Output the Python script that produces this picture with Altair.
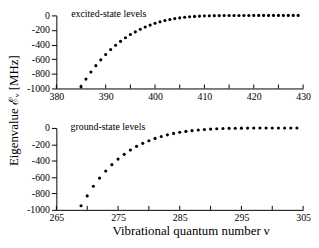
import altair as alt
import pandas as pd

FONT = "Liberation Serif, Times New Roman, serif"

# excited-state levels
exc_v = list(range(385, 430))
exc_e = [-975, -872, -775, -688, -608, -535, -468, -408, -355, -305,
         -262, -225, -190, -158, -132, -108, -88, -70, -55, -43,
         -33, -25, -18, -13, -9, -6, -4, -3, -2, -1.5,
         -1, -0.7, -0.5, -0.3, -0.2, -0.1, -0.05, -0.05, -0.05, -0.05,
         -0.05, -0.05, -0.05, -0.05, -0.05]
exc_ticks = list(range(380, 431, 5))
exc_labels = [380, 390, 400, 410, 420, 430]

# ground-state levels
gnd_v = list(range(269, 305))
gnd_e = [-950, -830, -712, -612, -525, -448, -380, -322, -270, -225,
         -188, -156, -128, -104, -84, -67, -53, -42, -33, -25,
         -19, -14, -10, -7, -5, -3.5, -2.5, -1.7, -1.1, -0.7,
         -0.4, -0.25, -0.15, -0.1, -0.05, -0.02]
gnd_ticks = list(range(265, 306, 5))
gnd_labels = [265, 275, 285, 295, 305]

y_ticks = [-1000, -800, -600, -400, -200, 0]

W = 250


def panel(v, e, xdom, labels, ticks, txt, txt_x, H, ytitle, xtitle, dy):
    df = pd.DataFrame({"v": v, "e": e})
    xs = alt.Scale(domain=xdom, nice=False, zero=False)
    ys = alt.Scale(domain=[-1000, 0], nice=False)
    xaxis = alt.Axis(values=labels, ticks=False, labelPadding=3, grid=False,
                     labelOverlap=False, labelFlush=False,
                     title=xtitle if xtitle else None,
                     titlePadding=2, titleX=136)
    if ytitle:
        yaxis = alt.Axis(values=y_ticks, tickSize=5, grid=False, title=ytitle,
                         labelExpr="datum.value + ''", labelPadding=2,
                         labelOverlap=False, labelFlush=False,
                         titleX=-43, titleY=96, titleBaseline="middle")
    else:
        yaxis = alt.Axis(values=y_ticks, tickSize=5, grid=False, title=None,
                         labelExpr="datum.value + ''", labelPadding=2,
                         labelOverlap=False, labelFlush=False)
    pts = alt.Chart(df).mark_circle(size=10, color="black", opacity=1).encode(
        x=alt.X("v:Q", scale=xs, axis=xaxis),
        y=alt.Y("e:Q", scale=ys, axis=yaxis),
    )
    rules = alt.Chart(pd.DataFrame({"v": ticks})).mark_rule(
        color="black", strokeWidth=1
    ).encode(
        x=alt.X("v:Q", scale=xs, axis=xaxis),
        y=alt.value(H),
        y2=alt.value(H - 4),
    )
    lab = alt.Chart(pd.DataFrame({"v": [txt_x], "e": [0], "s": [txt]})).mark_text(
        align="left", baseline="middle", dy=dy, fontSize=10, font=FONT, color="black"
    ).encode(
        x=alt.X("v:Q", scale=xs, axis=xaxis),
        y=alt.Y("e:Q", scale=ys, axis=yaxis),
        text="s:N",
    )
    return alt.layer(pts, rules, lab).properties(width=W, height=H)


top = panel(exc_v, exc_e, [380, 430], exc_labels, exc_ticks,
            "excited-state levels", 383, 74, "Eigenvalue ℰᵥ [MHz]", None, -1)
bottom = panel(gnd_v, gnd_e, [265, 305], gnd_labels, gnd_ticks,
               "ground-state levels", 267.3, 83, None,
               "Vibrational quantum number ν", -1)

chart = alt.vconcat(top, bottom, spacing=40, bounds="flush").properties(
    padding={"left": 0, "top": 0, "right": 0, "bottom": 0}
).configure_view(stroke=None).configure_axis(
    labelFont=FONT, titleFont=FONT, labelFontSize=10, titleFontSize=13,
    titleFontWeight="normal", labelColor="black", titleColor="black",
    domainColor="black", tickColor="black", domainWidth=1, tickWidth=1,
    labelOverlap=False,
)

chart.save("out.html", embed_options={"renderer": "svg", "actions": False})
